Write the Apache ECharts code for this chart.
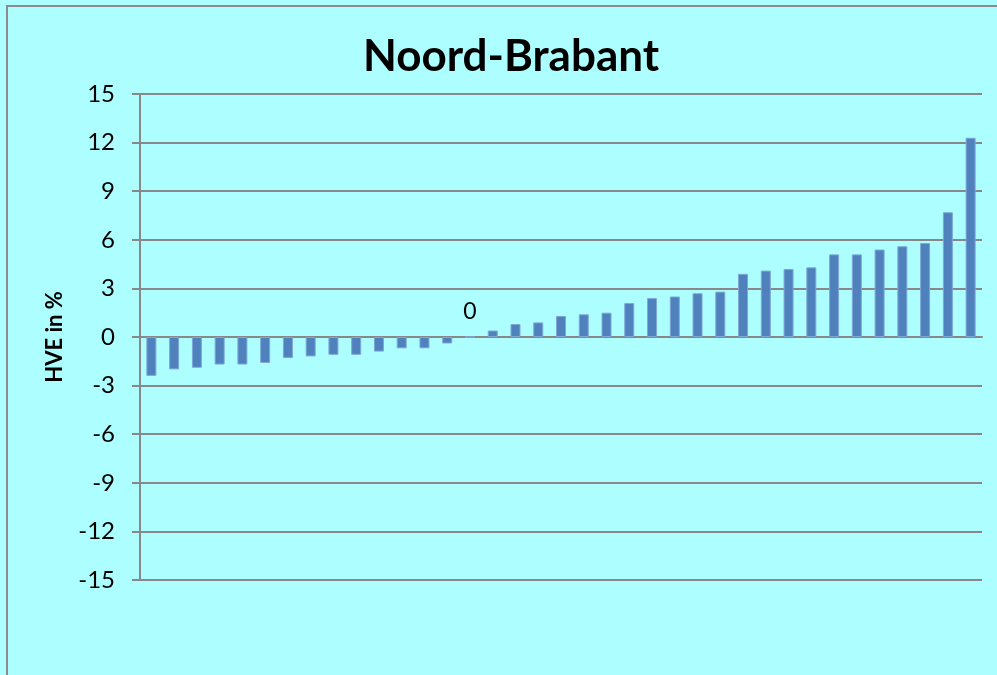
<!DOCTYPE html>
<html>
<head>
<meta charset="utf-8">
<script src="https://cdn.jsdelivr.net/npm/echarts@6/dist/echarts.min.js"></script>
<style>
html,body{margin:0;padding:0;background:#adffff;}
#chart{width:997px;height:675px;}
</style>
</head>
<body>
<div id="chart"></div>
<script>
const titleText = 'Noord-Brabant';
const yAxisName = 'HVE in %';
const categories = ['1','2','3','4','5','6','7','8','9','10','11','12','13','14','15','16','17','18','19','20','21','22','23','24','25','26','27','28','29','30','31','32','33','34','35','36','37'];
const negativeValues = [-2.4, -2.0, -1.9, -1.7, -1.7, -1.6, -1.3, -1.2, -1.1, -1.1, -0.9, -0.7, -0.7, -0.4];
const zeroValues = [0];
const positiveValues = [0.4, 0.8, 0.9, 1.3, 1.4, 1.5, 2.1, 2.4, 2.5, 2.7, 2.8, 3.9, 4.1, 4.2, 4.3, 5.1, 5.1, 5.4, 5.6, 5.8, 7.7, 12.3];
const values = negativeValues.concat(zeroValues, positiveValues);

const FONT = 'Lato';
const chart = echarts.init(document.getElementById('chart'));
chart.setOption({
  backgroundColor: '#adffff',
  animation: false,
  title: {
    text: titleText,
    left: 506, top: 30, textAlign: 'center',
    textStyle: { fontFamily: FONT, fontWeight: 'bold', fontSize: 44, color: '#000' }
  },
  graphic: [{
    type: 'rect',
    shape: { x: 7, y: 6, width: 1100, height: 800 },
    style: { fill: 'none', stroke: '#8c8c8c', lineWidth: 2 },
    silent: true
  }],
  grid: { left: 140, right: 15, top: 94, bottom: 95, containLabel: false },
  xAxis: {
    type: 'category',
    data: categories,
    axisLine: { show: true, onZero: true, lineStyle: { color: '#888888', width: 2 } },
    axisTick: { show: false },
    axisLabel: { show: false },
    splitLine: { show: false }
  },
  yAxis: {
    type: 'value',
    min: -15, max: 15, interval: 3,
    name: yAxisName,
    nameLocation: 'middle',
    nameGap: 74,
    nameRotate: 90,
    nameTextStyle: { fontFamily: FONT, fontWeight: 'bold', fontSize: 22, color: '#000' },
    axisLine: { show: true, lineStyle: { color: '#888888', width: 2 } },
    axisTick: { show: true, inside: false, length: 8, lineStyle: { color: '#888888', width: 2 } },
    axisLabel: { fontFamily: FONT, fontSize: 24, color: '#000', margin: 25 },
    splitLine: { show: true, lineStyle: { color: '#888888', width: 2 } }
  },
  series: [{
    type: 'bar',
    data: values,
    barWidth: 10,
    itemStyle: { color: '#4f81bd', borderColor: '#7fa6d8', borderWidth: 1 },
    label: {
      show: true,
      position: 'top',
      distance: 13,
      fontFamily: FONT,
      fontSize: 23,
      color: '#000',
      formatter: p => (p.value === 0 ? '0' : '')
    }
  }]
});
</script>
</body>
</html>
